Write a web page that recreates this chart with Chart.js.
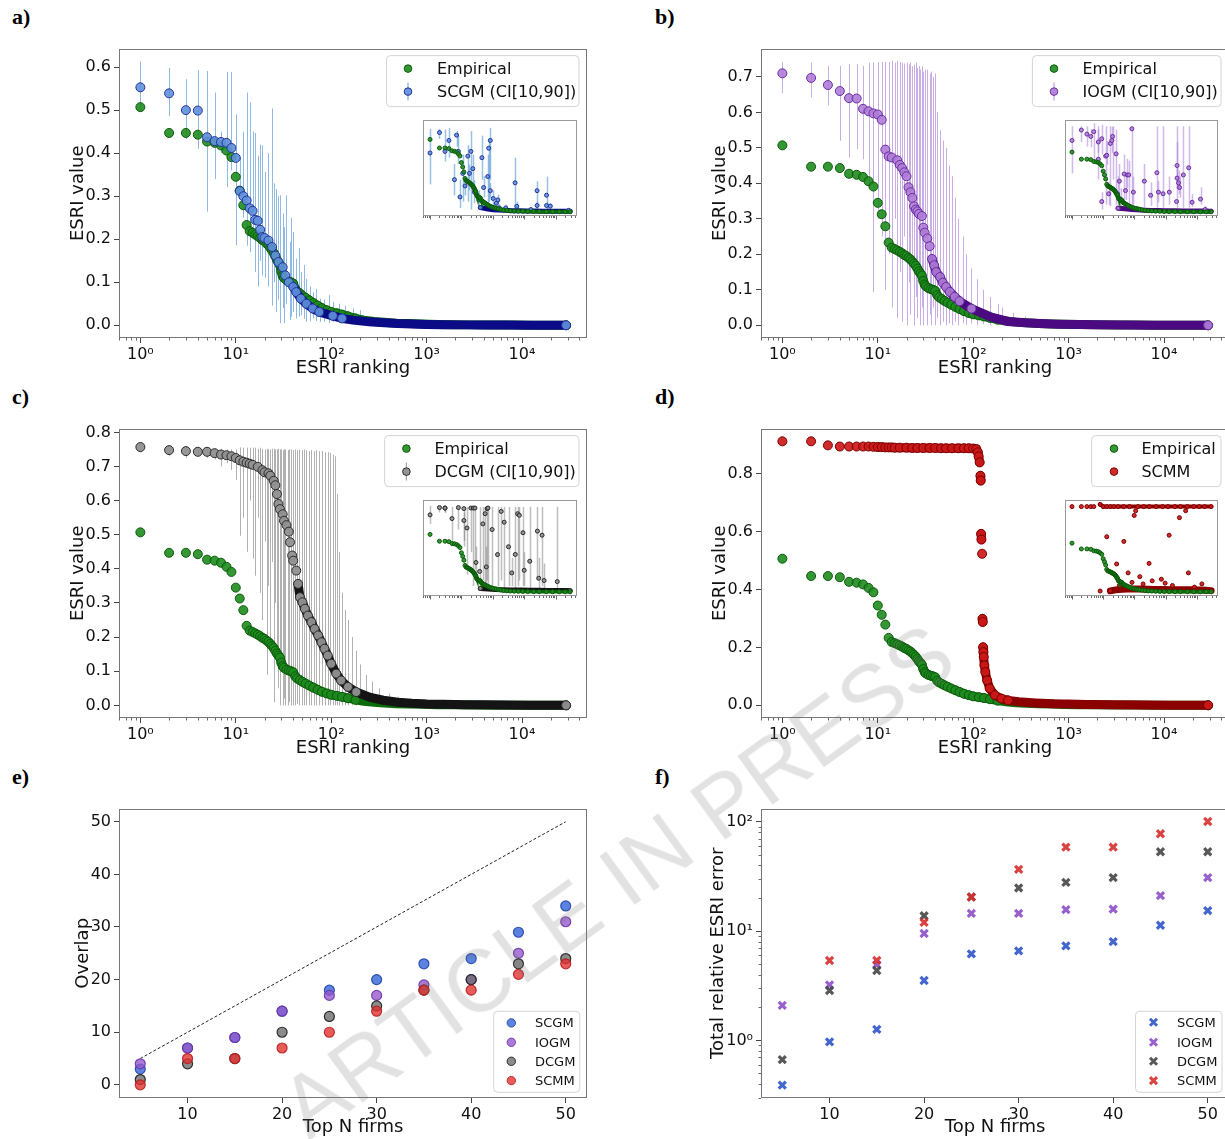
<!DOCTYPE html>
<html>
<head>
<meta charset="utf-8">
<script src="https://cdn.jsdelivr.net/npm/chart.js@4.4.1/dist/chart.umd.min.js"></script>
<style>
  html, body { margin: 0; padding: 0; background: #fff; }
  #page { position: relative; width: 1225px; height: 1139px; overflow: hidden; background: #fff; }
  #page canvas { position: absolute; }
  .tag { position: absolute; font: bold 22px 'Liberation Serif', 'DejaVu Serif', serif; color: #000; line-height: 22px; }
  #stamp {
    position: absolute; left: 215px; top: 838px; width: 800px; text-align: center;
    font: 88px 'Liberation Sans', Arial, sans-serif; line-height: 88px; white-space: nowrap;
    color: rgba(110, 110, 110, 0.2); transform: rotate(-36deg); transform-origin: 50% 50%;
    pointer-events: none;
  }
</style>
</head>
<body>
<div id="page">
  <div class="tag" style="left:12px;top:6px">a)</div>
  <div class="tag" style="left:655px;top:6px">b)</div>
  <div class="tag" style="left:12px;top:386px">c)</div>
  <div class="tag" style="left:655px;top:386px">d)</div>
  <div class="tag" style="left:12px;top:766px">e)</div>
  <div class="tag" style="left:655px;top:766px">f)</div>
</div>
<script>
// ---- ESRI ranking curves (rank, value) ----
const empRank = [1,2,3,4,5,6,7,8,9,10,11,12,13,14,15,16,17,18,19,20,21,22,23,24,25,26,27,28,29,30,31,32,34,36,38,40,42,44,47,50,54,59,65,72,80,90,100,115,130,150,180,220,280,360,480,650,900,1300,2000,3000,5000,8000,13000,20000,29000];
const empVal  = [0.507,0.447,0.447,0.443,0.427,0.424,0.418,0.406,0.391,0.345,0.313,0.279,0.233,0.219,0.215,0.211,0.207,0.203,0.198,0.195,0.19,0.186,0.18,0.174,0.168,0.16,0.152,0.146,0.14,0.125,0.115,0.11,0.105,0.102,0.1,0.097,0.085,0.079,0.074,0.069,0.064,0.058,0.052,0.046,0.04,0.035,0.031,0.028,0.025,0.021,0.016,0.012,0.009,0.007,0.005,0.004,0.003,0.002,0.0015,0.001,0.0007,0.0005,0.0003,0.0002,0.0001];

const scgmRank = [1,2,3,4,5,6,7,8,9,10,11,12,13,14,15,16,17,18,19,20,22,24,26,28,31,33,36,40,43,48,55,64,75,104,130,169,250,360,500,700,1000,1500,2500,4000,7000,12000,20000,29000];
const scgmVal  = [0.553,0.539,0.500,0.499,0.437,0.428,0.426,0.424,0.412,0.389,0.312,0.300,0.290,0.272,0.266,0.245,0.243,0.222,0.205,0.203,0.197,0.182,0.162,0.147,0.135,0.116,0.100,0.089,0.077,0.062,0.050,0.039,0.031,0.022,0.016,0.012,0.008,0.006,0.004,0.003,0.002,0.0015,0.001,0.0007,0.0005,0.0003,0.0002,0.0001];
const scgmErrRank = [1,2,3,4,5,6,7,8,9,10,11,12,13,14,15,16,17,18,19,20,22,24,25,26.5,28,29,31,32,34,36.6,38,40,43,46,48.6,52,55,60,64,70,75.5,85,95,104,120,140,169,200,230];
const scgmErrLo   = [0.497,0.486,0.433,0.410,0.264,0.340,0.40,0.321,0.36,0.186,0.30,0.25,0.185,0.17,0.21,0.124,0.09,0.15,0.116,0.11,0.09,0.046,0.10,0.031,0.06,0.005,0.04,0.005,0.05,0.012,0.02,0.031,0.016,0.02,0.023,0.015,0.008,0.01,0.016,0.01,0.008,0.008,0.005,0.008,0.005,0.004,0.008,0.003,0.002];
const scgmErrHi   = [0.613,0.598,0.572,0.593,0.591,0.541,0.45,0.589,0.589,0.490,0.39,0.45,0.541,0.518,0.45,0.447,0.394,0.42,0.418,0.356,0.40,0.504,0.33,0.317,0.30,0.302,0.26,0.228,0.302,0.193,0.25,0.217,0.155,0.18,0.124,0.14,0.108,0.09,0.077,0.085,0.062,0.06,0.07,0.054,0.05,0.045,0.039,0.035,0.02];

const iogmRank = [1,2,3,4,5,6,7,8,9,10,11,12,13,14,16,17,18,19,20,21,22,23,24,25,26,27,29,30,31,33,35,37,39,41,45,48,52,57,64,72,96,155,232,350,500,800,1300,2000,4000,8000,15000,29000];
const iogmVal  = [0.710,0.697,0.677,0.660,0.640,0.639,0.610,0.603,0.597,0.594,0.579,0.495,0.476,0.473,0.465,0.452,0.443,0.431,0.420,0.389,0.375,0.359,0.335,0.326,0.321,0.314,0.308,0.275,0.261,0.245,0.223,0.187,0.169,0.150,0.136,0.120,0.108,0.094,0.080,0.068,0.047,0.023,0.011,0.007,0.005,0.003,0.002,0.0015,0.001,0.0005,0.0003,0.0001];
const iogmErrRank = [1,2,3,4,5,6,7,8,9,10,11,12,13,14,15,16,17,18,19,20,21,22,23,24,25,26,27,28,29,30,31,33,35,36.5,38,40,42,45,48,52,56,60,65,70,78,85,95,110,126,150,180,201,260,350,500,800];
const iogmErrLo   = [0.654,0.642,0.62,0.52,0.473,0.497,0.468,0.40,0.094,0.30,0.25,0.10,0.20,0.05,0.30,0.02,0.15,0.01,0.25,0.0,0.12,0.03,0.20,0.0,0.08,0.02,0.15,0.0,0.05,0.0,0.10,0.0,0.03,0.0,0.05,0.0,0.02,0.0,0.01,0.0,0.005,0.0,0.01,0.0,0.005,0.0,0.005,0.0,0.003,0.0,0.002,0.0,0.0,0.0,0.0,0.0];
const iogmErrHi   = [0.742,0.740,0.731,0.731,0.736,0.736,0.731,0.74,0.741,0.742,0.742,0.742,0.742,0.745,0.74,0.745,0.742,0.74,0.738,0.74,0.735,0.74,0.73,0.735,0.74,0.725,0.73,0.72,0.73,0.715,0.72,0.72,0.71,0.715,0.70,0.71,0.60,0.55,0.52,0.50,0.45,0.42,0.36,0.30,0.25,0.20,0.16,0.13,0.10,0.08,0.06,0.05,0.035,0.025,0.015,0.01];

const dcgmRank = [1,2,3,4,5,6,7,8,9,10,11,12,13,14,15,17,19,20,22,23,25,26,27,28,29,31,32,34,36,37,39,40,43,45,47,50,53,57,62,67,73,79,85,92,100,113,127,150,183,252,350,500,700,1000,1500,2500,4000,7000,12000,20000,29000];
const dcgmVal  = [0.757,0.748,0.745,0.743,0.743,0.739,0.735,0.733,0.730,0.725,0.718,0.714,0.711,0.708,0.705,0.699,0.689,0.683,0.680,0.673,0.658,0.645,0.619,0.590,0.575,0.560,0.541,0.528,0.509,0.478,0.439,0.424,0.395,0.356,0.317,0.302,0.283,0.263,0.244,0.224,0.205,0.185,0.166,0.146,0.122,0.093,0.073,0.054,0.039,0.024,0.015,0.009,0.006,0.004,0.003,0.002,0.0015,0.001,0.0005,0.0003,0.0001];
const dcgmErrRank = [1,2,3,4,5,6,7,8,9,10,11,12,13,14,15,16,17,18,19,20,21,22,23,24,25,26,27,28,29,30,31,32,33,35,36,38,40,42,44,46,49,52,55,58,62,66,70,75,80,86,92,98,104,110,116,122,130,140,150,165,180,200,230,270,320,400,500];
const dcgmErrLo   = [0.741,0.73,0.725,0.73,0.725,0.72,0.70,0.71,0.69,0.66,0.497,0.55,0.45,0.60,0.43,0.38,0.55,0.33,0.25,0.48,0.09,0.35,0.20,0.42,0.009,0.30,0.15,0.05,0.0,0.10,0.0,0.02,0.0,0.0,0.01,0.0,0.0,0.0,0.005,0.0,0.0,0.0,0.0,0.0,0.0,0.0,0.0,0.0,0.0,0.0,0.0,0.0,0.0,0.0,0.0,0.0,0.0,0.0,0.0,0.0,0.0,0.0,0.0,0.0,0.0,0.0,0.0];
const dcgmErrHi   = [0.770,0.76,0.76,0.755,0.755,0.752,0.752,0.75,0.75,0.75,0.756,0.755,0.755,0.755,0.755,0.755,0.752,0.755,0.752,0.75,0.752,0.75,0.75,0.752,0.752,0.75,0.75,0.752,0.75,0.75,0.748,0.75,0.75,0.748,0.75,0.75,0.748,0.75,0.748,0.75,0.748,0.75,0.748,0.745,0.748,0.745,0.748,0.745,0.745,0.742,0.742,0.74,0.735,0.73,0.62,0.45,0.33,0.28,0.25,0.20,0.16,0.12,0.09,0.07,0.05,0.035,0.025];

const scmmRank = [1,2,3,4,5,6,7,8,9,10,11,12,13,14,15,17,20,23,26,30,35,40,46,52,60,70,80,90,100,108,112,114,117,119,120,121,122,124,125,126,127,128,129,131,134,140,149,169,198,232,300,450,700,1000,1500,3000,6000,12000,29000];
const scmmVal  = [0.913,0.913,0.899,0.895,0.895,0.895,0.895,0.895,0.894,0.893,0.893,0.892,0.892,0.892,0.891,0.891,0.891,0.890,0.890,0.890,0.890,0.890,0.889,0.889,0.889,0.889,0.889,0.889,0.888,0.886,0.875,0.861,0.840,0.794,0.777,0.593,0.573,0.524,0.299,0.288,0.201,0.184,0.167,0.138,0.115,0.086,0.058,0.035,0.023,0.017,0.012,0.008,0.005,0.004,0.003,0.002,0.001,0.0005,0.0001];

// ---- inset scatters: model value at each empirical rank ----
const scgmInsRank = [1,2,3,4,6,7,8,9,11,13,16,18,20,23,26,36,45,51,69,74,83,83,103,129,145,162,257,513,580,1630,2570,2570,5130,5130,6800,26000];
const scgmInsVal  = [0.412,0.555,0.423,0.500,0.225,0.537,0.423,0.104,0.269,0.181,0.390,0.269,0.423,0.302,0.137,0.083,0.379,0.170,0.247,0.445,0.500,0.148,0.093,0.060,0.083,0.027,0.027,0.203,0.038,0.016,0.148,0.044,0.116,0.044,0.040,0.010];
const scgmInsLo   = [0.192,0.511,0.352,0.379,0.115,0.456,0.335,0.027,0.071,0.115,0.071,0.150,0.016,0.20,0.06,0.03,0.225,0.10,0.049,0.071,0.225,0.10,0.04,0.02,0.04,0.005,0.005,0.027,0.01,0.005,0.044,0.02,0.005,0.02,0.02,0.0];
const scgmInsHi   = [0.581,0.581,0.577,0.588,0.335,0.566,0.533,0.225,0.401,0.247,0.467,0.33,0.566,0.40,0.22,0.15,0.533,0.25,0.401,0.489,0.588,0.20,0.15,0.10,0.12,0.05,0.05,0.379,0.07,0.03,0.214,0.07,0.247,0.07,0.06,0.02];
const scgmInsBaseRank = [40,70,100,150,250,400,700,1200,2000,4000,8000,15000,29000];
const scgmInsBaseVal  = [0.03,0.02,0.015,0.012,0.01,0.008,0.007,0.006,0.005,0.004,0.004,0.003,0.003];

const iogmInsRank = [1,2,3,4,5,7,7,9,9,12,13,15,17,19,20,26,29,33,36,47,52,59,66,83,93,209,332,527,590,832,1320,2250,2340,2340,2600,2800,3720,5530,7100,13200,18700];
const iogmInsVal  = [0.606,0.694,0.660,0.640,0.680,0.446,0.593,0.620,0.087,0.473,0.480,0.153,0.580,0.606,0.640,0.492,0.153,0.260,0.108,0.321,0.180,0.313,0.313,0.705,0.167,0.260,0.140,0.332,0.167,0.153,0.167,0.087,0.393,0.286,0.246,0.206,0.313,0.374,0.081,0.108,0.020];
const iogmInsLo   = [0.326,0.593,0.553,0.55,0.434,0.274,0.50,0.487,0.021,0.061,0.40,0.06,0.048,0.50,0.274,0.061,0.05,0.061,0.03,0.034,0.10,0.20,0.048,0.034,0.06,0.034,0.05,0.034,0.08,0.034,0.06,0.034,0.194,0.20,0.15,0.12,0.034,0.034,0.04,0.061,0.0];
const iogmInsHi   = [0.726,0.726,0.726,0.70,0.752,0.726,0.70,0.739,0.167,0.726,0.60,0.25,0.726,0.72,0.726,0.699,0.30,0.407,0.20,0.487,0.30,0.45,0.434,0.726,0.30,0.407,0.25,0.726,0.26,0.726,0.30,0.726,0.593,0.38,0.35,0.30,0.726,0.726,0.15,0.207,0.05];
const iogmInsBaseRank = [30,50,80,120,200,350,600,1000,2000,4000,8000,15000,29000];
const iogmInsBaseVal  = [0.03,0.025,0.02,0.017,0.014,0.012,0.01,0.009,0.008,0.007,0.006,0.006,0.005];

const dcgmInsRank = [1,2,3,3,5,8,12,12,15,20,24,27,29,38,48,57,62,66,70,95,141,185,230,316,400,520,617,700,912,1000,1500,2630,2900,3700,4300,11300];
const dcgmInsVal  = [0.68,0.744,0.74,0.74,0.647,0.744,0.735,0.63,0.564,0.74,0.74,0.74,0.259,0.18,0.6,0.69,0.22,0.735,0.74,0.55,0.329,0.71,0.615,0.398,0.167,0.33,0.69,0.676,0.522,0.19,0.27,0.536,0.12,0.5,0.1,0.09];
const dcgmInsLo   = [0.60,0.70,0.70,0.70,0.45,0.55,0.40,0.45,0.15,0.35,0.05,0.20,0.10,0.05,0.10,0.02,0.05,0.10,0.02,0.05,0.05,0.10,0.03,0.05,0.05,0.02,0.05,0.10,0.05,0.05,0.02,0.10,0.02,0.05,0.02,0.02];
const dcgmInsHi   = [0.76,0.76,0.755,0.755,0.75,0.75,0.75,0.70,0.75,0.75,0.75,0.75,0.40,0.75,0.75,0.75,0.40,0.75,0.75,0.75,0.75,0.75,0.75,0.75,0.30,0.75,0.75,0.75,0.75,0.35,0.75,0.75,0.30,0.75,0.25,0.75];
const dcgmInsBaseRank = [40,70,120,200,400,800,1500,3000,6000,12000,20000,29000];
const dcgmInsBaseVal  = [0.03,0.025,0.02,0.018,0.016,0.015,0.014,0.013,0.012,0.012,0.011,0.01];

const scmmInsTopRank = [1,2,3,4,5,8,10,13,17,22,30,45,70,130,200,300,500,800,1200,2000,3000,5000,8000,12000,18000,29000];
const scmmInsTopVal  = [0.888,0.888,0.888,0.888,0.888,0.911,0.888,0.888,0.888,0.888,0.888,0.888,0.888,0.888,0.888,0.888,0.888,0.888,0.888,0.888,0.888,0.888,0.888,0.888,0.888,0.888];
const scmmInsRank = [99,110,2790,4400,13,46,1300,27,296,5400,63,149,8,33,84,190,373,735,968,1660,8430,14600];
const scmmInsVal  = [0.796,0.845,0.773,0.845,0.574,0.525,0.59,0.29,0.296,0.197,0.197,0.158,0.008,0.065,0.098,0.082,0.114,0.131,0.09,0.065,0.049,0.082];
const scmmInsBaseRank = [17,25,40,60,100,200,400,800,1500,3000,6000,12000,20000,29000];
const scmmInsBaseVal  = [0.01,0.02,0.025,0.03,0.03,0.028,0.025,0.025,0.022,0.02,0.02,0.018,0.015,0.012];

// ---- top-N comparison ----
const topN = [5,10,15,20,25,30,35,40,45,50];
const overlapSCGM = [3,7,9,14,18,20,23,24,29,34];
const overlapIOGM = [4,7,9,14,17,17,19,20,25,31];
const overlapDCGM = [1,4,5,10,13,15,18,20,23,24];
const overlapSCMM = [0,5,5,7,10,14,18,18,21,23];
const diagEnds = [5, 50];
const errSCGM = [0.39,0.97,1.26,3.53,6.19,6.6,7.33,8.02,11.3,15.4];
const errIOGM = [2.09,3.22,4.94,9.5,14.5,14.5,15.7,15.9,21.1,30.8];
const errDCGM = [0.667,2.86,4.36,13.8,20.5,24.8,27.9,30.8,53.2,53.2];
const errSCMM = [null,5.38,5.4,12.0,20.5,36.7,58.7,58.7,77.7,100.6];

// ---- tick values ----
const rankTicks = [1, 10, 100, 1000, 10000];
const ticksA = [0, 0.1, 0.2, 0.3, 0.4, 0.5, 0.6];
const ticksB = [0, 0.1, 0.2, 0.3, 0.4, 0.5, 0.6, 0.7];
const ticksC = [0, 0.1, 0.2, 0.3, 0.4, 0.5, 0.6, 0.7, 0.8];
const ticksD = [0, 0.2, 0.4, 0.6, 0.8];
const topNTicks = [10, 20, 30, 40, 50];
const overlapTicks = [0, 10, 20, 30, 40, 50];
const errorTicks = [1, 10, 100];

// ---------------------------------------------------------------------------
const FONT = "'DejaVu Sans', sans-serif";
const INK = '#111';
const TICK = '#444';
const FRAME = '#777';
const SUP = { 0: '\u2070', 1: '\u00b9', 2: '\u00b2', 3: '\u00b3', 4: '\u2074' };
const X_MIN = 0.597, X_MAX = 48000;
const PAD = { l: 75, t: 12, r: 12, b: 55 };
const page = document.getElementById('page');

const EMP  = { face: 'rgba(30,140,30,0.9)',  edge: '#0b5a0b', band: '#0b6b0b' };
const BLUE = { face: 'rgba(95,145,220,0.9)', edge: '#22339a', band: '#0b0b88' };
const PURP = { face: 'rgba(175,125,215,0.9)', edge: '#6a2ea0', band: '#4b0a82' };
const GREY = { face: 'rgba(145,145,145,0.95)', edge: '#2a2a2a', band: '#141414' };
const RED  = { face: 'rgba(205,25,25,0.92)', edge: '#7a0000', band: '#8b0000' };

// vertical CI bars, drawn behind the markers
const errBars = {
  id: 'errBars',
  beforeDatasetsDraw(chart, args, o) {
    if (!o.sets || !o.sets.length) return;
    const { ctx, chartArea: a, scales: { x, y } } = chart;
    ctx.save();
    ctx.beginPath(); ctx.rect(a.left, a.top, a.width, a.height); ctx.clip();
    o.sets.forEach(s => {
      ctx.strokeStyle = s.color; ctx.lineWidth = s.width;
      s.x.forEach((r, i) => {
        const px = Math.round(x.getPixelForValue(r)) + 0.5;
        ctx.beginPath();
        ctx.moveTo(px, y.getPixelForValue(s.lo[i]));
        ctx.lineTo(px, y.getPixelForValue(s.hi[i]));
        ctx.stroke();
      });
    });
    ctx.restore();
  }
};

// box around the axes (and white face for the insets)
const frame = {
  id: 'frame',
  beforeDraw(chart, args, o) {
    if (!o.bg) return;
    const { ctx, chartArea: a } = chart;
    ctx.save(); ctx.fillStyle = o.bg; ctx.fillRect(a.left, a.top, a.width, a.height); ctx.restore();
  },
  afterDatasetsDraw(chart, args, o) {
    if (!o.color) return;
    const { ctx, chartArea: a } = chart;
    ctx.save(); ctx.strokeStyle = o.color; ctx.lineWidth = 1;
    ctx.strokeRect(Math.round(a.left) + 0.5, Math.round(a.top) + 0.5, Math.round(a.width) - 1, Math.round(a.height) - 1);
    ctx.restore();
  }
};

// small ticks between decades on log axes
const minorTicks = {
  id: 'minorTicks',
  afterDraw(chart, args, o) {
    if (!o.axes) return;
    const { ctx, chartArea: a } = chart;
    ctx.save(); ctx.strokeStyle = TICK; ctx.lineWidth = 0.8;
    o.axes.forEach(id => {
      const s = chart.scales[id];
      const lo = Math.floor(Math.log10(s.min)), hi = Math.ceil(Math.log10(s.max));
      for (let k = lo; k <= hi; k++) {
        for (let m = 1; m <= 9; m++) {
          const v = m * Math.pow(10, k);
          if (v < s.min || v > s.max) continue;
          const len = m === 1 ? (o.major || 0) : o.minor;
          if (!len) continue;
          const p = Math.round(s.getPixelForValue(v)) + 0.5;
          ctx.beginPath();
          if (s.isHorizontal()) { ctx.moveTo(p, a.bottom); ctx.lineTo(p, a.bottom + len); }
          else { ctx.moveTo(a.left - len, p); ctx.lineTo(a.left, p); }
          ctx.stroke();
        }
      }
    });
    ctx.restore();
  }
};

function drawMark(ctx, shape, x, y, r, face, edge) {
  if (shape === 'crossRot') {
    ctx.strokeStyle = edge; ctx.lineWidth = 3; ctx.lineCap = 'butt';
    ctx.beginPath();
    ctx.moveTo(x - r * 0.7, y - r * 0.7); ctx.lineTo(x + r * 0.7, y + r * 0.7);
    ctx.moveTo(x + r * 0.7, y - r * 0.7); ctx.lineTo(x - r * 0.7, y + r * 0.7);
    ctx.stroke();
    return;
  }
  ctx.beginPath(); ctx.arc(x, y, r, 0, Math.PI * 2);
  ctx.fillStyle = face; ctx.fill();
  ctx.strokeStyle = edge; ctx.lineWidth = 1; ctx.stroke();
}

// legend box placed in page coordinates
const boxLegend = {
  id: 'boxLegend',
  afterDraw(chart, args, o) {
    if (!o.rows) return;
    const { ctx, chartArea: a } = chart;
    const ox = a.left - o.frame.x, oy = a.top - o.frame.y;
    const [bx, by, bw, bh] = o.box;
    ctx.save();
    ctx.beginPath();
    if (ctx.roundRect) ctx.roundRect(bx + ox, by + oy, bw, bh, 4); else ctx.rect(bx + ox, by + oy, bw, bh);
    ctx.fillStyle = 'rgba(255,255,255,0.8)'; ctx.fill();
    ctx.strokeStyle = '#d4d4d4'; ctx.lineWidth = 1; ctx.stroke();
    ctx.font = o.size + 'px ' + FONT;
    ctx.textBaseline = 'middle';
    o.rows.forEach((r, i) => {
      const mx = o.markX + ox, my = o.rowY[i] + oy;
      if (r.err) {
        ctx.strokeStyle = r.err; ctx.lineWidth = 1.2;
        ctx.beginPath(); ctx.moveTo(mx, my - 9); ctx.lineTo(mx, my + 9); ctx.stroke();
      }
      drawMark(ctx, r.shape, mx, my, o.r, r.face, r.edge);
      ctx.fillStyle = INK;
      ctx.fillText(r.label, o.textX + ox, my + 1);
    });
    ctx.restore();
  }
};

Chart.register(errBars, frame, minorTicks, boxLegend);

function place(fr, pad) {
  const cv = document.createElement('canvas');
  cv.width = fr.w + pad.l + pad.r;
  cv.height = fr.h + pad.t + pad.b;
  cv.style.left = (fr.x - pad.l) + 'px';
  cv.style.top = (fr.y - pad.t) + 'px';
  page.appendChild(cv);
  return cv.getContext('2d');
}

// circles that merge into a solid band where they crowd together;
// past band.hide only the band is drawn (plus the final marker)
function series(rank, val, st, r, band, order) {
  const last = rank.length - 1;
  const ds = {
    data: rank.map((v, i) => ({ x: v, y: val[i] })),
    pointRadius: band && band.hide
      ? c => (rank[c.dataIndex] >= band.hide && c.dataIndex < last ? 0 : r)
      : r,
    pointBorderWidth: 1,
    pointBackgroundColor: st.face, pointBorderColor: st.edge,
    showLine: !!band, borderWidth: band ? band.w : 0, borderCapStyle: 'round',
    borderColor: 'rgba(0,0,0,0)', order
  };
  if (band) {
    ds.segment = {
      borderColor: c => (c.p0.parsed.x >= band.from && Math.abs(c.p1.y - c.p0.y) < band.gap) ? st.band : 'rgba(0,0,0,0)'
    };
  }
  return ds;
}

function tickGrid() {
  return { drawOnChartArea: false, drawTicks: true, tickLength: 5, tickColor: TICK, tickWidth: 1 };
}

function axisX(type, min, max, values, fmt, title, padB) {
  return {
    type, position: 'bottom', min, max,
    border: { display: false }, grid: tickGrid(),
    afterBuildTicks: s => { s.ticks = values.map(v => ({ value: v })); },
    afterFit: s => { s.height = PAD.b; },
    ticks: { font: { family: FONT, size: 16 }, color: INK, padding: 2, autoSkip: false, maxRotation: 0, callback: fmt },
    title: { display: true, text: title, color: INK, font: { family: FONT, size: 18 }, padding: { top: 0, bottom: padB } }
  };
}

function axisY(type, min, max, values, fmt, title, padT) {
  return {
    type, position: 'left', min, max,
    border: { display: false }, grid: tickGrid(),
    afterBuildTicks: s => { s.ticks = values.map(v => ({ value: v })); },
    afterFit: s => { s.width = PAD.l; },
    ticks: { font: { family: FONT, size: 16 }, color: INK, padding: 3, autoSkip: false, callback: fmt },
    title: { display: true, text: title, color: INK, font: { family: FONT, size: 18 }, padding: { top: padT, bottom: 0 } }
  };
}

const powLabel = v => '10' + SUP[Math.round(Math.log10(v))];
const oneDec = v => v.toFixed(1);

function esriPanel(fr, yMin, yMax, yTicks, datasets, err, legend) {
  const ctx = place(fr, PAD);
  return new Chart(ctx, {
    type: 'scatter',
    data: { datasets },
    options: {
      responsive: false, animation: false, events: [],
      layout: { padding: { left: 0, top: PAD.t, right: PAD.r, bottom: 0 } },
      plugins: {
        legend: { display: false }, tooltip: { enabled: false },
        errBars: { sets: err ? [err] : [] },
        frame: { color: FRAME },
        minorTicks: { axes: ['x'], minor: 2.5 },
        boxLegend: Object.assign({ frame: fr }, legend)
      },
      scales: {
        x: axisX('logarithmic', X_MIN, X_MAX, rankTicks, powLabel, 'ESRI ranking', 13.9),
        y: axisY('linear', yMin, yMax, yTicks, oneDec, 'ESRI value', fr.x > 600 ? 23.3 : 23.8)
      }
    }
  });
}

function insetPanel(fr, yMin, yMax, datasets, err) {
  const ctx = place(fr, { l: 0, t: 0, r: 0, b: 4 });
  return new Chart(ctx, {
    type: 'scatter',
    data: { datasets },
    options: {
      responsive: false, animation: false, events: [],
      layout: { padding: { left: 0, top: 0, right: 0, bottom: 4 } },
      plugins: {
        legend: { display: false }, tooltip: { enabled: false },
        errBars: { sets: err ? [err] : [] },
        frame: { color: '#999', bg: '#fff' },
        minorTicks: { axes: ['x'], minor: 2, major: 3.5 }
      },
      scales: {
        x: { type: 'logarithmic', display: false, min: X_MIN, max: X_MAX },
        y: { type: 'linear', display: false, min: yMin, max: yMax }
      }
    }
  });
}

const empMain = () => series(empRank, empVal, EMP, 4.5, { w: 9, from: 25, gap: 14, hide: 200 }, 1);
const empSmall = () => series(empRank, empVal, EMP, 2, { w: 3.5, from: 25, gap: 6 }, 0);

// a) SCGM
esriPanel({ x: 119, y: 48, w: 468, h: 290 }, -0.0295, 0.643, ticksA,
  [series(scgmRank, scgmVal, BLUE, 4.5, { w: 9, from: 40, gap: 14, hide: 150 }, 0), empMain()],
  { x: scgmErrRank, lo: scgmErrLo, hi: scgmErrHi, color: 'rgba(70,140,210,0.6)', width: 1 },
  { box: [386.5, 55, 192.5, 51], markX: 408, textX: 437, rowY: [68, 91], size: 16, r: 3.8,
    rows: [{ label: 'Empirical', face: EMP.face, edge: EMP.edge },
           { label: 'SCGM (CI[10,90])', face: BLUE.face, edge: BLUE.edge, err: 'rgba(70,140,210,0.7)' }] });
insetPanel({ x: 418, y: 115, w: 164, h: 102 }, -0.0295, 0.643,
  [empSmall(),
   series(scgmInsRank, scgmInsVal, BLUE, 2, null, 1),
   series(scgmInsBaseRank, scgmInsBaseVal, BLUE, 2, { w: 5, from: 1, gap: 10, hide: 41 }, 2)],
  { x: scgmInsRank, lo: scgmInsLo, hi: scgmInsHi, color: 'rgba(70,140,210,0.55)', width: 1.5 });

// b) IOGM
esriPanel({ x: 761, y: 48, w: 468, h: 290 }, -0.0357, 0.7796, ticksB,
  [series(iogmRank, iogmVal, PURP, 4.5, { w: 9, from: 37, gap: 14, hide: 150 }, 0), empMain()],
  { x: iogmErrRank, lo: iogmErrLo, hi: iogmErrHi, color: 'rgba(160,105,210,0.55)', width: 1 },
  { box: [1032.4, 55, 188.6, 51], markX: 1054, textX: 1082.5, rowY: [68, 91], size: 16, r: 3.8,
    rows: [{ label: 'Empirical', face: EMP.face, edge: EMP.edge },
           { label: 'IOGM (CI[10,90])', face: PURP.face, edge: PURP.edge, err: 'rgba(165,115,215,0.7)' }] });
insetPanel({ x: 1060, y: 115, w: 163, h: 102 }, -0.0357, 0.7796,
  [empSmall(),
   series(iogmInsRank, iogmInsVal, PURP, 2, null, 1),
   series(iogmInsBaseRank, iogmInsBaseVal, PURP, 2, { w: 5, from: 1, gap: 10, hide: 31 }, 2)],
  { x: iogmInsRank, lo: iogmInsLo, hi: iogmInsHi, color: 'rgba(165,115,215,0.5)', width: 1.5 });

// c) DCGM
esriPanel({ x: 119, y: 428, w: 468, h: 290 }, -0.037, 0.811, ticksC,
  [series(dcgmRank, dcgmVal, GREY, 4.5, { w: 9, from: 45, gap: 14, hide: 200 }, 0), empMain()],
  { x: dcgmErrRank, lo: dcgmErrLo, hi: dcgmErrHi, color: 'rgba(125,125,125,0.6)', width: 1 },
  { box: [384.6, 435, 194.4, 51], markX: 406.4, textX: 434.4, rowY: [448, 471], size: 16, r: 3.8,
    rows: [{ label: 'Empirical', face: EMP.face, edge: EMP.edge },
           { label: 'DCGM (CI[10,90])', face: GREY.face, edge: GREY.edge, err: 'rgba(125,125,125,0.7)' }] });
insetPanel({ x: 418, y: 495, w: 164, h: 102 }, -0.037, 0.811,
  [empSmall(),
   series(dcgmInsRank, dcgmInsVal, GREY, 2, null, 1),
   series(dcgmInsBaseRank, dcgmInsBaseVal, GREY, 2, { w: 5, from: 1, gap: 10, hide: 41 }, 2)],
  { x: dcgmInsRank, lo: dcgmInsLo, hi: dcgmInsHi, color: 'rgba(125,125,125,0.5)', width: 1.5 });

// d) SCMM (no CI)
esriPanel({ x: 761, y: 428, w: 468, h: 290 }, -0.044, 0.957, ticksD,
  [series(scmmRank, scmmVal, RED, 4.5, { w: 9, from: 10, gap: 10, hide: 250 }, 0), empMain()],
  null,
  { box: [1091.6, 435, 129.4, 51], markX: 1114, textX: 1141.4, rowY: [448, 471], size: 16, r: 3.8,
    rows: [{ label: 'Empirical', face: EMP.face, edge: EMP.edge },
           { label: 'SCMM', face: RED.face, edge: RED.edge }] });
insetPanel({ x: 1060, y: 495, w: 163, h: 102 }, -0.044, 0.957,
  [empSmall(),
   series(scmmInsTopRank, scmmInsTopVal, RED, 2, { w: 4, from: 7, gap: 6 }, 1),
   series(scmmInsRank, scmmInsVal, RED, 2, null, 1),
   series(scmmInsBaseRank, scmmInsBaseVal, RED, 2, { w: 7, from: 1, gap: 10, hide: 18 }, 2)],
  null);

// e) / f) top-N comparison
const CMP = [
  { name: 'SCGM', face: 'rgba(50,100,215,0.8)',  edge: 'rgba(35,70,170,0.9)',  xc: 'rgba(45,85,200,0.9)' },
  { name: 'IOGM', face: 'rgba(150,90,205,0.8)',  edge: 'rgba(110,55,170,0.9)', xc: 'rgba(140,80,200,0.9)' },
  { name: 'DCGM', face: 'rgba(110,110,110,0.8)', edge: 'rgba(30,30,30,0.9)',   xc: 'rgba(70,70,70,0.9)' },
  { name: 'SCMM', face: 'rgba(225,50,50,0.8)',   edge: 'rgba(185,30,30,0.9)',  xc: 'rgba(215,45,45,0.9)' }
];
const overlapSets = [overlapSCGM, overlapIOGM, overlapDCGM, overlapSCMM];
const errorSets = [errSCGM, errIOGM, errDCGM, errSCMM];

(function () {
  const fr = { x: 119, y: 808, w: 468, h: 290 };
  const ctx = place(fr, PAD);
  const sets = overlapSets.map((vals, k) => ({
    data: topN.map((n, i) => ({ x: n, y: vals[i] })),
    pointRadius: 5, pointBorderWidth: 1.2,
    pointBackgroundColor: CMP[k].face, pointBorderColor: CMP[k].edge, order: 3 - k
  }));
  sets.push({
    data: diagEnds.map(n => ({ x: n, y: n })), showLine: true, pointRadius: 0,
    borderColor: '#222', borderWidth: 1, borderDash: [3, 2], order: 5
  });
  new Chart(ctx, {
    type: 'scatter',
    data: { datasets: sets },
    options: {
      responsive: false, animation: false, events: [],
      layout: { padding: { left: 0, top: PAD.t, right: PAD.r, bottom: 0 } },
      plugins: {
        legend: { display: false }, tooltip: { enabled: false },
        frame: { color: FRAME },
        boxLegend: { frame: fr, box: [493.7, 1010.7, 86.1, 81], markX: 511.3, textX: 535,
          rowY: [1022.3, 1041.7, 1060.7, 1080], size: 13, r: 4.2,
          rows: CMP.map(c => ({ label: c.name, face: c.face, edge: c.edge })) }
      },
      scales: {
        x: axisX('linear', 2.75, 52.25, topNTicks, v => v, 'Top N firms', 15.2),
        y: axisY('linear', -2.5, 52.5, overlapTicks, v => v, 'Overlap', 29.0)
      }
    }
  });
})();

(function () {
  const fr = { x: 761, y: 808, w: 468, h: 290 };
  const ctx = place(fr, PAD);
  const sets = errorSets.map((vals, k) => ({
    data: topN.map((n, i) => ({ x: n, y: vals[i] })),
    pointStyle: 'crossRot', pointRadius: 5, pointBorderWidth: 3.2,
    pointBackgroundColor: CMP[k].xc, pointBorderColor: CMP[k].xc, order: 3 - k
  }));
  new Chart(ctx, {
    type: 'scatter',
    data: { datasets: sets },
    options: {
      responsive: false, animation: false, events: [],
      layout: { padding: { left: 0, top: PAD.t, right: PAD.r, bottom: 0 } },
      plugins: {
        legend: { display: false }, tooltip: { enabled: false },
        frame: { color: FRAME },
        minorTicks: { axes: ['y'], minor: 2.5 },
        boxLegend: { frame: fr, box: [1135.5, 1010.7, 86.5, 81], markX: 1153.5, textX: 1177,
          rowY: [1021.7, 1041.7, 1060.7, 1080], size: 13, r: 5,
          rows: CMP.map(c => ({ label: c.name, face: c.xc, edge: c.xc, shape: 'crossRot' })) }
      },
      scales: {
        x: axisX('linear', 2.75, 52.25, topNTicks, v => v, 'Top N firms', 15.2),
        y: axisY('logarithmic', 0.297, 132, errorTicks, powLabel, 'Total relative ESRI error', 21.3)
      }
    }
  });
})();

// watermark sits above everything
const stamp = document.createElement('div');
stamp.id = 'stamp';
stamp.textContent = 'ARTICLE IN PRESS';
page.appendChild(stamp);
</script>
</body>
</html>
